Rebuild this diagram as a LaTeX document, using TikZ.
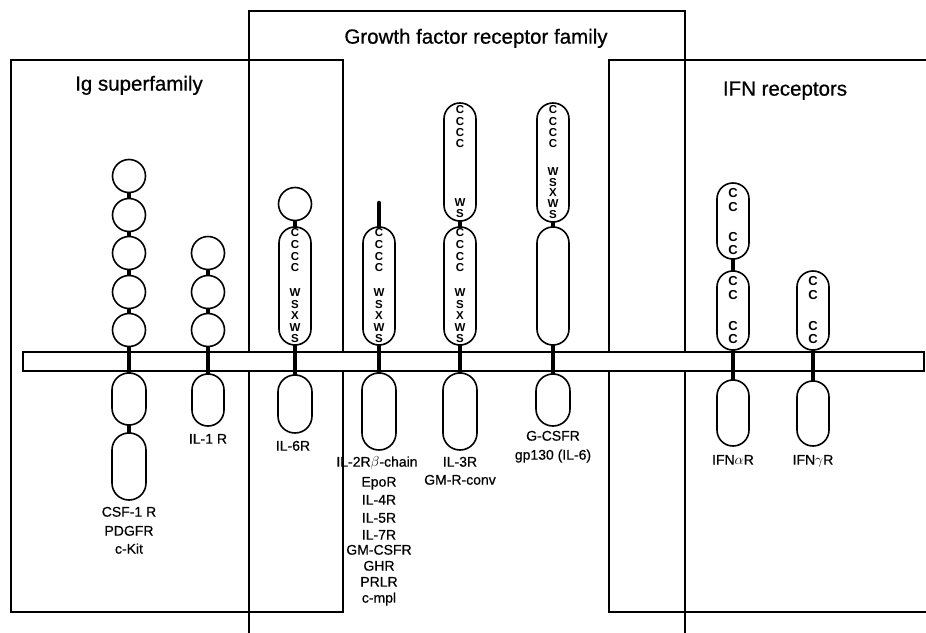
\documentclass[tikz,border=0pt]{standalone}
\usepackage{fontspec}
\setmainfont{Liberation Sans}
\newfontfamily\medfont{Liberation Sans}[FakeBold=0.6]
\begin{document}
\begin{tikzpicture}[x=1pt,y=-1pt,
  box/.style={line width=1.6pt},
  dom/.style={line width=1.6pt, fill=white},
  stalk/.style={line width=4.5pt},
  lbl/.style={font=\medfont\fontsize{14}{16}\selectfont, inner sep=0pt, anchor=mid},
  ttl/.style={font=\medfont\fontsize{20.5}{22}\selectfont, inner sep=0pt, anchor=mid},
  aa/.style={font=\bfseries\fontsize{11.5}{12}\selectfont, inner sep=0pt},
  cc/.style={font=\bfseries\fontsize{13}{13}\selectfont, inner sep=0pt}]
\useasboundingbox (0,0) rectangle (926,632);
% family boxes
\draw[box] (11,60) rectangle (343,612);
\draw[box] (249,640) -- (249,11) -- (685,11) -- (685,640);
\draw[box] (930,60) -- (609,60) -- (609,612) -- (930,612);
% membrane
\draw[box, fill=white] (23,352) rectangle (924,371);
% stalks
\draw[stalk] (129,176) -- (129,466);
\draw[stalk] (208,253) -- (208,400);
\draw[stalk] (295,204) -- (295,400);
\draw[stalk, line cap=round] (379,203) -- (379,410);
\draw[stalk] (460,160) -- (460,410);
\draw[stalk] (553,160) -- (553,400);
\draw[stalk] (733,220) -- (733,410);
\draw[stalk] (813,300) -- (813,410);
% CSF-1R
\foreach \yy in {176,215,253,292,330} \draw[dom] (129,\yy) circle (16.5pt);
\draw[dom, rounded corners=16.9pt] (112,373) rectangle (146,425);
\draw[dom, rounded corners=16.9pt] (112,433) rectangle (146,500);
% IL-1R
\foreach \yy in {253,292,330} \draw[dom] (208,\yy) circle (16.5pt);
\draw[dom, rounded corners=15.9pt] (192,374) rectangle (224,426);
% IL-6R
\draw[dom] (295,204) circle (16.5pt);
\draw[dom, rounded corners=15.9pt] (279,227) rectangle (311,345);
\draw[dom, rounded corners=16.9pt] (278,375) rectangle (312,433);
% IL-2R beta
\draw[dom, rounded corners=15.9pt] (363,227) rectangle (395,345);
\draw[dom, rounded corners=16.9pt] (362,373) rectangle (396,450);
% IL-3R
\draw[dom, rounded corners=15.9pt] (444,103) rectangle (476,221);
\draw[dom, rounded corners=15.9pt] (444,227) rectangle (476,345);
\draw[dom, rounded corners=16.9pt] (443,373) rectangle (477,450);
% G-CSFR
\draw[dom, rounded corners=15.9pt] (537,103) rectangle (569,222);
\draw[dom, rounded corners=15.9pt] (537,227) rectangle (569,345);
\draw[dom, rounded corners=16.9pt] (536,374) rectangle (570,426);
% IFN alpha R
\draw[dom, rounded corners=15.9pt] (717,183) rectangle (749,259);
\draw[dom, rounded corners=15.9pt] (717,271) rectangle (749,350);
\draw[dom, rounded corners=15.9pt] (717,380) rectangle (749,446);
% IFN gamma R
\draw[dom, rounded corners=15.9pt] (797,271) rectangle (829,350);
\draw[dom, rounded corners=15.9pt] (797,381) rectangle (829,446);
% residue letters
\foreach \xx/\nm in {295/a,379/b,460/c} {
  \foreach \yy/\ch [count=\i] in {233/C,245/C,257/C,268/C,293/W,305/S,316/X,328/W,339/S}
    \node[aa] (\nm\i) at (\xx,\yy) {\ch};
}
\foreach \yy/\ch [count=\i] in {110/C,122/C,133/C,144/C,203/W,214/S}
  \node[aa] (d\i) at (460,\yy) {\ch};
\foreach \yy/\ch [count=\i] in {110/C,122/C,133/C,144/C,172/W,183/S,193/X,204/W,215/S}
  \node[aa] (e\i) at (553,\yy) {\ch};
\foreach \yy [count=\i] in {193,207,237,250,281,295,326,339}
  \node[cc] (f\i) at (733,\yy) {C};
\foreach \yy [count=\i] in {281,295,326,339}
  \node[cc] (g\i) at (813,\yy) {C};
% titles
\node[ttl] (t1) at (139,88) {Ig superfamily};
\node[ttl] (t2) at (476,41) {Growth factor receptor family};
\node[ttl] (t3) at (785,93) {IFN receptors};
% labels
\node[lbl] (l1) at (129,514) {CSF-1 R};
\node[lbl] (l2) at (129,533) {PDGFR};
\node[lbl] (l3) at (129,551) {c-Kit};
\node[lbl] (l4) at (208,441) {IL-1 R};
\node[lbl] (l5) at (293,448) {IL-6R};
\node[lbl] (l6) at (377,464) {IL-2R$\mathbf{\beta}$-chain};
\foreach \yy/\tx [count=\i] in {484/EpoR,502/IL-4R,520/IL-5R,537/IL-7R,552/GM-CSFR,568/GHR,584/PRLR,600/c-mpl}
  \node[lbl] (m\i) at (379,\yy) {\tx};
\node[lbl] (l7) at (460,464) {IL-3R};
\node[lbl] (l8) at (460,482) {GM-R-conv};
\node[lbl] (l9) at (553,438) {G-CSFR};
\node[lbl] (l10) at (553,457) {gp130 (IL-6)};
\node[lbl] (l11) at (733,462) {IFN$\alpha$R};
\node[lbl] (l12) at (813,462) {IFN$\gamma$R};
\end{tikzpicture}
\end{document}
